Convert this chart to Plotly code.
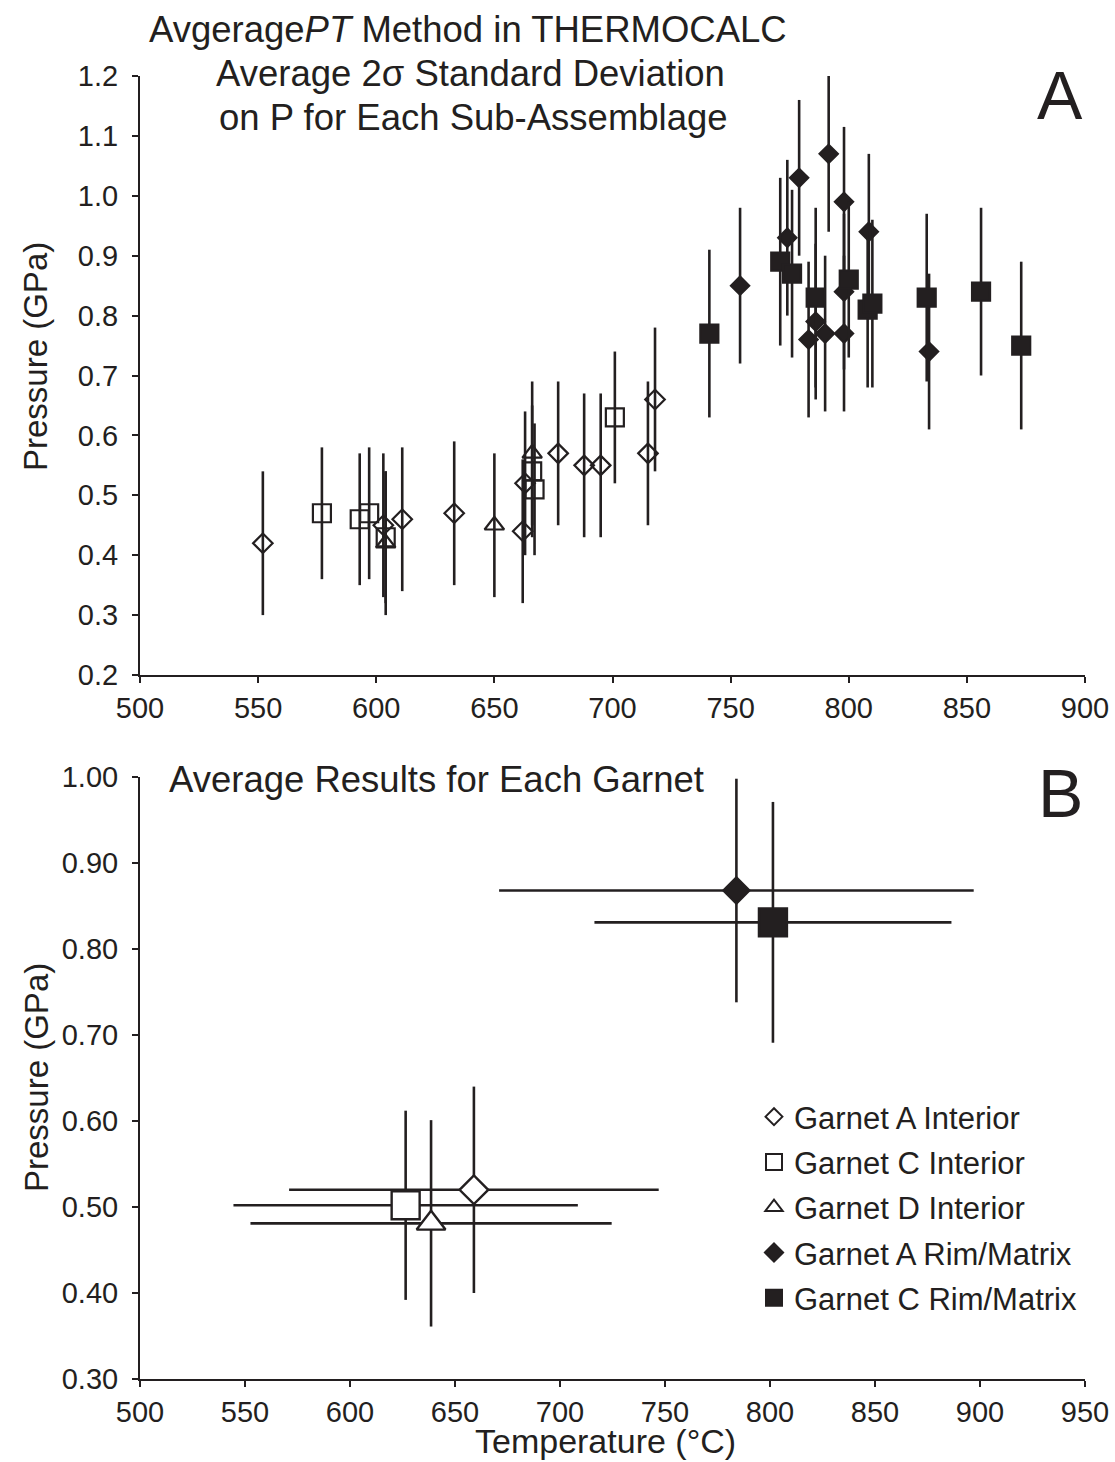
import plotly.graph_objects as go

INK = "#231f20"
FONT = "Liberation Sans, Arial, Helvetica, sans-serif"

# ---------------- Panel A data (sub-assemblages) ----------------
a_int_T = [552, 603, 611, 633, 662, 663, 677, 688, 695, 715, 718]
a_int_P = [0.42, 0.45, 0.46, 0.47, 0.44, 0.52, 0.57, 0.55, 0.55, 0.57, 0.66]
a_int_err = [0.12, 0.12, 0.12, 0.12, 0.12, 0.12, 0.12, 0.12, 0.12, 0.12, 0.12]

c_int_T = [577, 593, 597, 604, 666, 667, 701]
c_int_P = [0.47, 0.46, 0.47, 0.43, 0.54, 0.51, 0.63]
c_int_err = [0.11, 0.11, 0.11, 0.11, 0.11, 0.11, 0.11]

d_int_T = [604, 650, 666]
d_int_P = [0.42, 0.45, 0.57]
d_int_err = [0.12, 0.12, 0.12]

a_rim_T = [754, 774, 779, 783, 786, 790, 791.5, 798, 798, 798, 808.5, 834]
a_rim_P = [0.85, 0.93, 1.03, 0.76, 0.79, 0.77, 1.07, 0.99, 0.84, 0.77, 0.94, 0.74]
a_rim_err = [0.13, 0.13, 0.13, 0.13, 0.13, 0.13, 0.13, 0.125, 0.13, 0.13, 0.13, 0.13]

c_rim_T = [741, 771, 776, 786, 800, 808, 810, 833, 856, 873]
c_rim_P = [0.77, 0.89, 0.87, 0.83, 0.86, 0.81, 0.82, 0.83, 0.84, 0.75]
c_rim_err = [0.14, 0.14, 0.14, 0.15, 0.13, 0.13, 0.14, 0.14, 0.14, 0.14]

# ---------------- Panel B data (garnet averages) ----------------
avg_names = ["Garnet A Interior", "Garnet C Interior", "Garnet D Interior",
             "Garnet A Rim/Matrix", "Garnet C Rim/Matrix"]
avg_T = [659, 626.5, 638.6, 784, 801.4]
avg_P = [0.52, 0.502, 0.481, 0.868, 0.831]
avg_T_err = [88, 82, 86, 113, 85]
avg_P_err = [0.12, 0.11, 0.12, 0.13, 0.14]

# ---------------- Axis ranges ----------------
xA_range = [500, 900]
yA_range = [0.2, 1.2]
xB_range = [500, 950]
yB_range = [0.3, 1.0]

symbols_A = ["diamond-open", "square-open", "triangle-up-open", "diamond", "square"]
sizes_A = [15, 18, 17, 14, 18]
symbols_B = ["diamond", "square", "triangle-up", "diamond", "square"]
fills_B = ["white", "white", "white", INK, INK]
sizes_B = [22, 28, 25, 20, 28]
leg_sizes = [13, 16, 15, 14, 16]

fig = go.Figure()

panelA = [(a_int_T, a_int_P, a_int_err), (c_int_T, c_int_P, c_int_err),
          (d_int_T, d_int_P, d_int_err), (a_rim_T, a_rim_P, a_rim_err),
          (c_rim_T, c_rim_P, c_rim_err)]

for i, (T, P, E) in enumerate(panelA):
    fig.add_trace(go.Scatter(
        x=T, y=P, mode="markers", showlegend=False, xaxis="x", yaxis="y",
        marker=dict(symbol=symbols_A[i], size=sizes_A[i], color=INK,
                    line=dict(color=INK, width=2.2)),
        error_y=dict(type="data", array=E, visible=True, color=INK,
                     thickness=2.6, width=0),
        cliponaxis=False,
    ))

for i in range(5):
    fig.add_trace(go.Scatter(
        x=[avg_T[i]], y=[avg_P[i]], mode="markers", showlegend=False,
        xaxis="x2", yaxis="y2",
        marker=dict(symbol=symbols_B[i], size=sizes_B[i], color=fills_B[i],
                    line=dict(color=INK, width=2.4)),
        error_x=dict(type="data", array=[avg_T_err[i]], visible=True, color=INK,
                     thickness=2.6, width=0),
        error_y=dict(type="data", array=[avg_P_err[i]], visible=True, color=INK,
                     thickness=2.6, width=0),
    ))

# legend entries
for i in range(5):
    fig.add_trace(go.Scatter(
        x=[None], y=[None], mode="markers", name=avg_names[i],
        legendgroup=f"g{i}", xaxis="x2", yaxis="y2",
        marker=dict(symbol=symbols_B[i], size=leg_sizes[i], color=fills_B[i],
                    line=dict(color=INK, width=2)),
    ))

axis_common = dict(showline=True, linecolor=INK, linewidth=2, ticks="outside",
                   ticklen=6, tickwidth=2, tickcolor=INK, showgrid=False,
                   zeroline=False, automargin=False,
                   tickfont=dict(size=29, color=INK, family=FONT))

yA_dom = [(1379 - 675) / 1303, 1.0]
yB_dom = [0.0, (1379 - 777) / 1303]

fig.update_layout(
    width=1115, height=1462,
    margin=dict(l=140, r=30, t=76, b=83, autoexpand=False),
    paper_bgcolor="white", plot_bgcolor="white",
    font=dict(family=FONT, color=INK),
    xaxis=dict(range=xA_range, dtick=50, tick0=500, anchor="y",
               ticklabelstandoff=0, **axis_common),
    yaxis=dict(range=yA_range, dtick=0.1, tick0=0.2, tickformat=".1f",
               domain=yA_dom, anchor="x", ticklabelstandoff=8, **axis_common),
    xaxis2=dict(range=xB_range, dtick=50, tick0=500, anchor="y2",
                ticklabelstandoff=0, **axis_common),
    yaxis2=dict(range=yB_range, dtick=0.1, tick0=0.3, tickformat=".2f",
                domain=yB_dom, anchor="x2", ticklabelstandoff=8, **axis_common),
    legend=dict(x=(754 - 140) / 945, y=(1379 - 1090) / 1303, xanchor="left",
                yanchor="top", font=dict(size=31, color=INK, family=FONT),
                tracegroupgap=2, bgcolor="rgba(0,0,0,0)"),
)

def px_x(p):
    return (p - 140) / 945

def px_y(p):
    return (1379 - p) / 1303

ann = [
    dict(text="Avgerage<i>PT</i> Method in THERMOCALC", x=px_x(468), y=px_y(30), size=36.5),
    dict(text="Average 2σ Standard Deviation", x=px_x(470), y=px_y(74), size=36.5),
    dict(text="on P for Each Sub-Assemblage", x=px_x(473), y=px_y(118), size=36.5),
    dict(text="A", x=px_x(1060), y=px_y(95), size=68),
    dict(text="B", x=px_x(1060), y=px_y(793), size=68),
]
for a in ann:
    fig.add_annotation(text=a["text"], x=a["x"], y=a["y"], xref="paper", yref="paper",
                       xanchor="center", yanchor="middle", showarrow=False,
                       font=dict(size=a["size"], color=INK, family=FONT))

fig.add_annotation(text="Temperature (°C)", x=px_x(605), y=px_y(1461), xref="paper",
                   yref="paper", xanchor="center", yanchor="bottom", showarrow=False,
                   borderpad=0, font=dict(size=34, color=INK, family=FONT))

fig.add_annotation(text="Average Results for Each Garnet", x=px_x(167), y=px_y(779),
                   xref="paper", yref="paper", xanchor="left", yanchor="middle",
                   showarrow=False, font=dict(size=36.5, color=INK, family=FONT))

for yc in (357, 1078):
    fig.add_annotation(text="Pressure (GPa)", x=px_x(36), y=px_y(yc), xref="paper",
                       yref="paper", xanchor="center", yanchor="middle", textangle=-90,
                       showarrow=False, font=dict(size=33, color=INK, family=FONT))

fig.write_html("out.html")
